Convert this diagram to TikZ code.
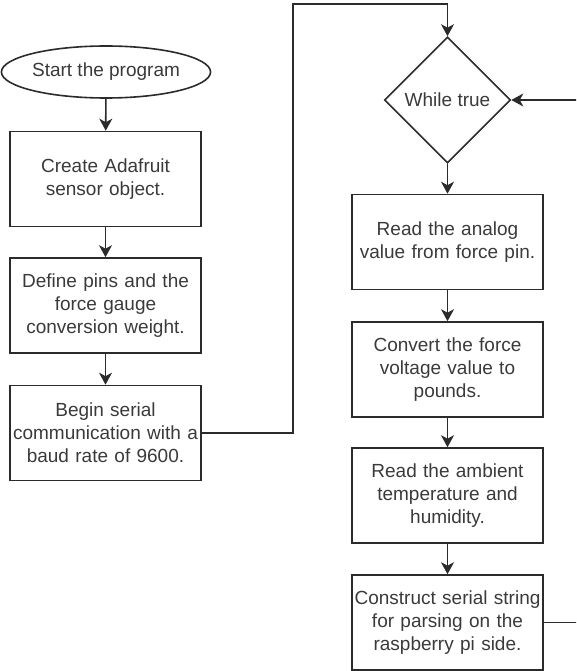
\documentclass[tikz,border=0pt]{standalone}
\usepackage{fontspec}
\setmainfont{Liberation Sans}
\usetikzlibrary{shapes.geometric,arrows.meta}
\definecolor{ink}{HTML}{2B2B2B}
\definecolor{txt}{HTML}{3A3A3A}
\tikzset{
  every node/.style={font=\fontsize{19}{23}\selectfont, text=txt},
  stepbox/.style={draw=ink, line width=1.6pt, rectangle, minimum width=191pt,
    minimum height=95pt, align=center, inner sep=2pt, text width=187pt},
  startnode/.style={draw=ink, line width=1.6pt, ellipse, minimum width=184pt,
    minimum height=52pt, inner sep=0pt},
  decide/.style={draw=ink, line width=1.6pt, diamond, aspect=1,
    minimum width=126pt, minimum height=126pt, inner sep=0pt},
  flow/.style={draw=ink, line width=1.6pt,
    -{Stealth[length=12pt, width=13pt, inset=3.5pt]}},
  link/.style={draw=ink, line width=1.6pt}
}
\begin{document}
\begin{tikzpicture}[x=1pt, y=-1pt]
\useasboundingbox (0,0) rectangle (576,671);
\clip (0,0) rectangle (576,671);

% left column: set-up steps
\node[startnode] (start) at (106,72) {Start the program};
\node[stepbox] (create) at (105.5,179) {Create Adafruit\\sensor object.};
\node[stepbox] (define) at (105.5,305.5) {Define pins and the\\force gauge\\conversion weight.};
\node[stepbox] (serial) at (105.5,433) {Begin serial\\communication with a\\baud rate of 9600.};

% right column: main loop
\node[decide] (loop) at (447.5,100) {While true};
\node[stepbox] (analog) at (447.5,242) {Read the analog\\value from force pin.};
\node[stepbox] (convert) at (447.5,369.5) {Convert the force\\voltage value to\\pounds.};
\node[stepbox] (ambient) at (447.5,495.5) {Read the ambient\\temperature and\\humidity.};
\node[stepbox] (construct) at (447.5,622.5) {Construct serial string\\for parsing on the\\raspberry pi side.};

% routing points
\coordinate (up) at (293,4);
\coordinate (back) at (590,0);

\draw[flow] (start) -- (create);
\draw[flow] (create) -- (define);
\draw[flow] (define) -- (serial);
\draw[flow] (serial.east) -- (up |- serial.east) -- (up) -| (loop.north);
\draw[flow] (loop) -- (analog);
\draw[flow] (analog) -- (convert);
\draw[flow] (convert) -- (ambient);
\draw[flow] (ambient) -- (construct);
\draw[flow] (construct.east) -- (back |- construct.east) -- (back |- loop.east) -- (loop.east);
\end{tikzpicture}
\end{document}
